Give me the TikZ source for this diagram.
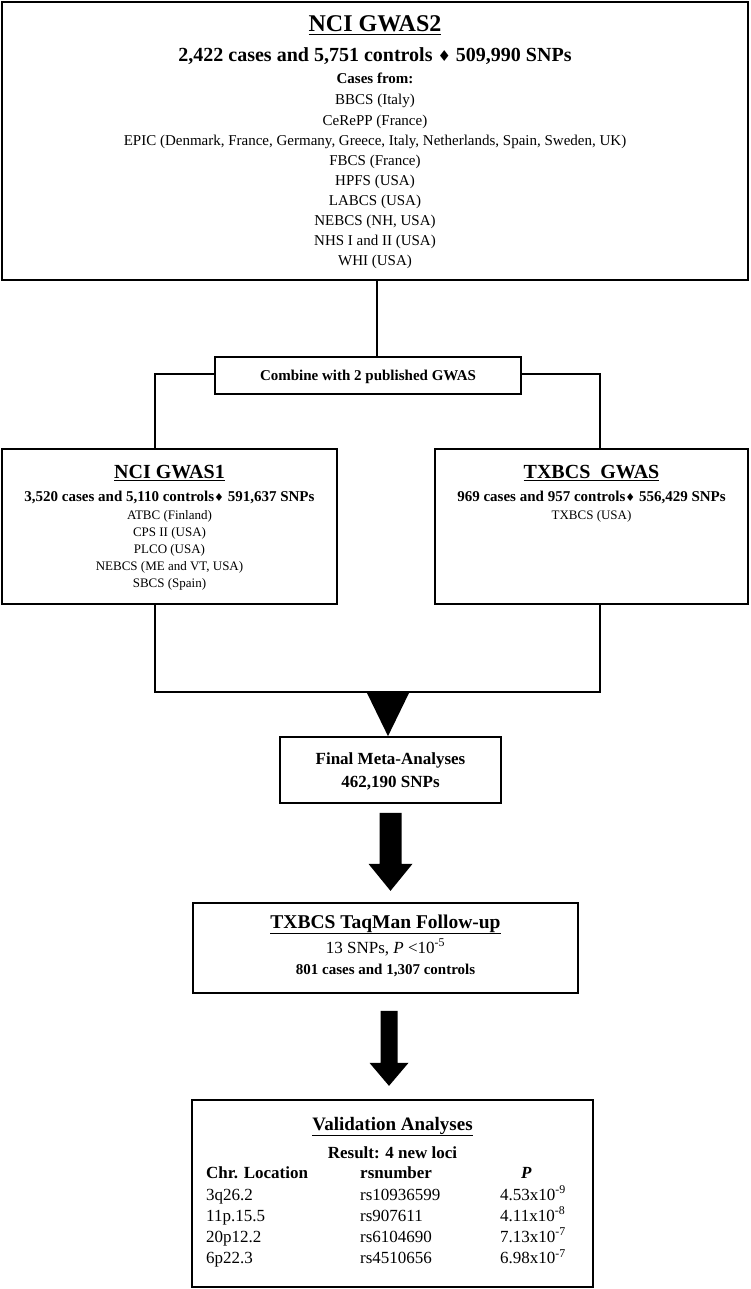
\documentclass[tikz,border=0pt]{standalone}
\usepackage{fontspec}
\setmainfont{Liberation Serif}
\newfontfamily\symfont{DejaVu Sans}
\usetikzlibrary{calc}
\newcommand{\fs}[1]{\fontsize{#1}{#1}\selectfont}
\newcommand{\dmd}[1]{{\symfont\fontsize{#1}{#1}\selectfont ♦}}
\begin{document}
\begin{tikzpicture}[x=1pt,y=-1pt,
  box/.style={draw, line width=1.7pt, inner sep=0pt},
  conn/.style={line width=2pt},
  txt/.style={anchor=base, inner sep=0pt},
  txl/.style={anchor=base west, inner sep=0pt},
]
\useasboundingbox (0,0) rectangle (750,1289);

% boxes
\node[box, minimum width=746pt, minimum height=278pt] (gwas2) at (375,141) {};
\node[box, minimum width=306pt, minimum height=37pt] (comb) at (368,375.5) {};
\node[box, minimum width=335pt, minimum height=155pt] (gwas1) at (169.5,526.5) {};
\node[box, minimum width=313pt, minimum height=155pt] (txbcs) at (591.5,526.5) {};
\node[box, minimum width=221pt, minimum height=66pt] (meta) at (390.5,770) {};
\node[box, minimum width=385pt, minimum height=90pt] (taq) at (385.5,948) {};
\node[box, minimum width=401pt, minimum height=187pt] (valid) at (392.5,1193.5) {};

% NCI GWAS2 texts
\node[txt, font=\fs{24}\bfseries] (g2t) at (375,32) {\underline{NCI GWAS2}};
\node[txt, font=\fs{20}\bfseries] (g2s) at (375,62) {2,422 cases and 5,751 controls \dmd{15} 509,990 SNPs};
\node[txt, font=\fs{15}\bfseries] (g2c) at (375,84) {Cases from:};
\foreach \t [count=\i from 0] in {BBCS (Italy), CeRePP (France),
  {EPIC (Denmark, France, Germany, Greece, Italy, Netherlands, Spain, Sweden, UK)},
  FBCS (France), HPFS (USA), LABCS (USA), {NEBCS (NH, USA)}, NHS I and II (USA), WHI (USA)}
  \node[txt, font=\fs{15}] (g2l\i) at (375,{105+20.1*\i}) {\t};

% combine
\node[txt, font=\fs{15}\bfseries] (combt) at (368,380) {Combine with 2 published GWAS};

% NCI GWAS1
\node[txt, font=\fs{20}\bfseries] (g1t) at (169.5,478) {\underline{NCI GWAS1}};
\node[txt, font=\fs{15}\bfseries] (g1s) at (169.5,501) {3,520 cases and 5,110 controls\dmd{11} 591,637 SNPs};
\foreach \t [count=\i from 0] in {ATBC (Finland), CPS II (USA), PLCO (USA),
  {NEBCS (ME and VT, USA)}, SBCS (Spain)}
  \node[txt, font=\fs{13}] (g1l\i) at (169.5,{519.5+17.1*\i}) {\t};

% TXBCS GWAS
\node[txt, font=\fs{20}\bfseries] (txt) at (591.5,478) {\underline{TXBCS\enspace GWAS}};
\node[txt, font=\fs{15}\bfseries] (txs) at (591.5,501) {969 cases and 957 controls\dmd{11} 556,429 SNPs};
\node[txt, font=\fs{13}] (txl) at (591.5,519.5) {TXBCS (USA)};

% meta
\node[txt, font=\fs{17}\bfseries] (mt1) at (390.5,764) {Final Meta-Analyses};
\node[txt, font=\fs{17}\bfseries] (mt2) at (390.5,787) {462,190 SNPs};

% taqman
\node[txt, font=\fs{19.5}\bfseries] (tq1) at (385.5,928) {\underline{TXBCS TaqMan Follow-up}};
\node[txt, font=\fs{17}] (tq2) at (385.5,953) {13 SNPs, \textit{P} <10\textsuperscript{-5}};
\node[txt, font=\fs{15}\bfseries] (tq3) at (385.5,974) {801 cases and 1,307 controls};

% validation
\node[txt, font=\fs{19}\bfseries] (v1) at (392.5,1130) {\underline{Validation Analyses}};
\node[txt, font=\fs{17}\bfseries] (v2) at (392.5,1158) {Result: 4 new loci};
\node[txl, font=\fs{17}\bfseries] (h1) at (206,1178) {Chr. Location};
\node[txl, font=\fs{17}\bfseries] (h2) at (360,1178) {rsnumber};
\node[txl, font=\fs{17}\bfseries\itshape] (h3) at (521,1178) {P};
\foreach \a/\b/\c/\d [count=\i from 0] in {3q26.2/rs10936599/4.53/-9, 11p.15.5/rs907611/4.11/-8,
  20p12.2/rs6104690/7.13/-7, 6p22.3/rs4510656/6.98/-7}{
  \node[txl, font=\fs{17}] (ra\i) at (206,{1200+21.1*\i}) {\a};
  \node[txl, font=\fs{17}] (rb\i) at (360,{1200+21.1*\i}) {\b};
  \node[txl, font=\fs{17}] (rc\i) at (500,{1200+21.1*\i}) {\c x10\textsuperscript{\d}};
}

% connectors
\coordinate (mx) at (377,0);
\coordinate (lx) at (155,0);
\coordinate (rx) at (600,0);
\coordinate (hy) at (0,373.5);
\coordinate (jn) at (388,692);
\draw[conn] (gwas2.south -| mx) -- (comb.north -| mx);
\draw[conn] (comb.west |- hy) -| (gwas1.north -| lx);
\draw[conn] (comb.east |- hy) -| (txbcs.north -| rx);
\draw[conn] (gwas1.south -| lx) |- (jn) -| (txbcs.south -| rx);
\fill ($(jn)+(-21.5,0)$) -- ($(jn)+(21.5,0)$) -- (jn |- meta.north) -- cycle;

% block arrows
\fill ($(meta.south)+(-11,9)$) -- ($(meta.south)+(11,9)$) -- ($(meta.south)+(11,60)$)
  -- ($(meta.south)+(22,60)$) -- ($(meta.south)+(0,87)$) -- ($(meta.south)+(-22,60)$)
  -- ($(meta.south)+(-11,60)$) -- cycle;
\coordinate (a2) at ($(taq.south)+(3.5,0)$);
\fill ($(a2)+(-8.5,17)$) -- ($(a2)+(8.5,17)$) -- ($(a2)+(8.5,69)$)
  -- ($(a2)+(19.5,69)$) -- ($(a2)+(0,92)$) -- ($(a2)+(-19.5,69)$)
  -- ($(a2)+(-8.5,69)$) -- cycle;
\end{tikzpicture}
\end{document}
